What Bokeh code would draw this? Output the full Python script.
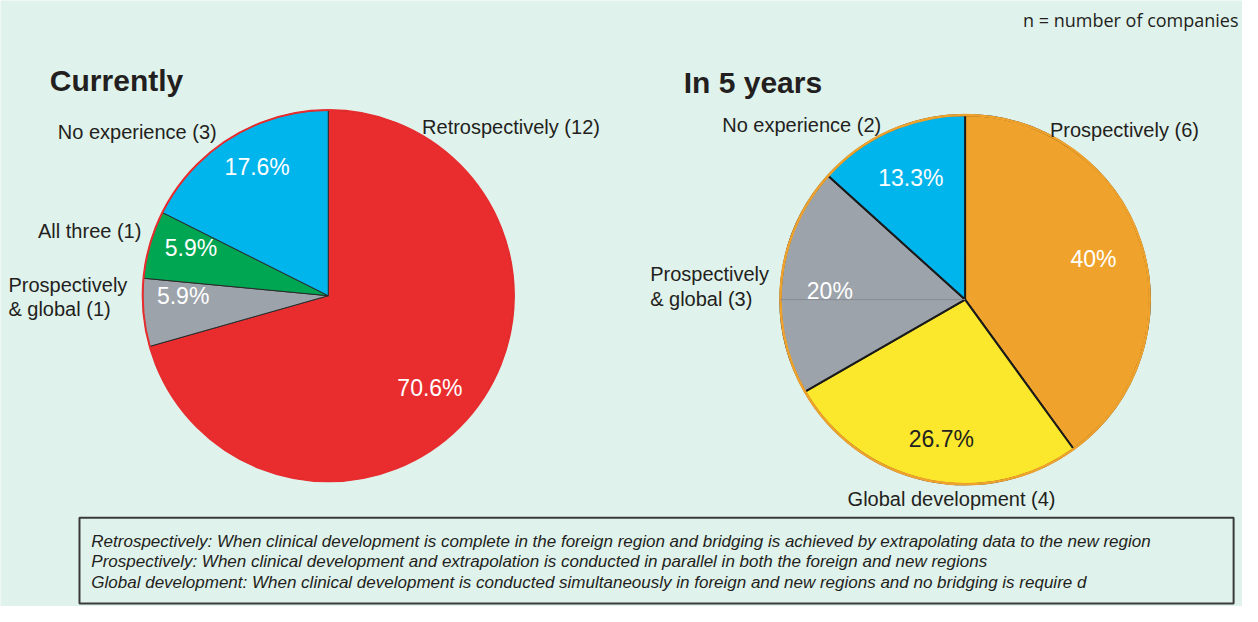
import numpy as np
from bokeh.plotting import figure
from bokeh.models import Range1d, ColumnDataSource
from bokeh.core.properties import value
from bokeh.embed import file_html
from bokeh.resources import INLINE

# ---------------- data ----------------
current_title = "Currently"
current_labels = ["Retrospectively (12)", "Prospectively\n& global (1)", "All three (1)", "No experience (3)"]
current_pct = [70.6, 5.9, 5.9, 17.6]
current_pct_text = ["70.6%", "5.9%", "5.9%", "17.6%"]

future_title = "In 5 years"
future_labels = ["Prospectively (6)", "Global development (4)", "Prospectively\n& global (3)", "No experience (2)"]
future_pct = [40.0, 26.7, 20.0, 13.3]
future_pct_text = ["40%", "26.7%", "20%", "13.3%"]

note_top = "n = number of companies"
footnotes = [
    "Retrospectively: When clinical development is complete in the foreign region and bridging is achieved by extrapolating data to the new region",
    "Prospectively: When clinical development and extrapolation is conducted in parallel in both the foreign and new regions",
    "Global development: When clinical development is conducted simultaneously in foreign and new regions and no bridging is require d",
]

# ---------------- style / layout ----------------
BG = "#e0f2ec"
W, H = 1242, 606
FONT = "Liberation Sans"
current_colors = ["#e92d2f", "#9ca3aa", "#00a651", "#00b4ec"]
future_colors = ["#f0a32c", "#fbe82c", "#9ca3aa", "#00b4ec"]

def Y(yref):
    return 622 - yref

p = figure(width=W, height=H, output_backend="svg", toolbar_location=None,
           x_range=Range1d(0, 1258), y_range=Range1d(0, 622),
           min_border=0, min_border_left=0, min_border_right=0,
           min_border_top=0, min_border_bottom=0)
p.axis.visible = False
p.grid.visible = False
p.outline_line_color = None
p.background_fill_color = BG
p.border_fill_color = BG


def draw_pie(cx, cy, r, pcts, colors, sep_color, sep_width, rim_color, rim_width):
    cum = np.concatenate([[0], np.cumsum(pcts)]) / np.sum(pcts)
    start = np.pi / 2 - cum[1:] * 2 * np.pi
    end = np.pi / 2 - cum[:-1] * 2 * np.pi
    src = ColumnDataSource(dict(x=[cx] * len(pcts), y=[cy] * len(pcts),
                                start=start, end=end, color=colors))
    p.wedge(x="x", y="y", radius=r, start_angle="start", end_angle="end",
            fill_color="color", line_color=sep_color, line_width=sep_width, source=src)
    p.arc(x=[cx], y=[cy], radius=r, start_angle=0, end_angle=2 * np.pi,
          line_color=rim_color, line_width=rim_width)
    return start, end


# Left pie
LCX, LCY, LR = 332, Y(303), 188
draw_pie(LCX, LCY, LR, current_pct, current_colors, "#2a2a2a", 1, "#e92d2f", 2)

# Right pie
RCX, RCY, RR = 977, Y(307), 187
draw_pie(RCX, RCY, RR, future_pct, future_colors, "#1a1a1a", 2, "#f0a32c", 2.5)
# faint horizontal artifact line in grey slice
p.line(x=[RCX - RR, RCX], y=[RCY, RCY], line_color="#868c94", line_width=1)

# Titles
p.text(x=[50, 692], y=[Y(82), Y(84)], text=[current_title, future_title],
       text_font=value(FONT), text_font_size="30px", text_font_style="bold",
       text_color="#231f20", text_baseline="middle", text_align="left")

# Category labels (split multi-line)
def label_lines(labels, anchors, size="20px"):
    xs, ys, ts = [], [], []
    for lab, (ax, ay) in zip(labels, anchors):
        for k, line in enumerate(lab.split("\n")):
            xs.append(ax)
            ys.append(Y(ay + k * 25))
            ts.append(line)
    p.text(x=xs, y=ys, text=ts, text_font=value(FONT), text_font_size=size,
           text_color="#231f20", text_baseline="middle", text_align="left")

current_label_pos = [(427, 130), (8, 292), (38, 237), (58, 135)]
future_label_pos = [(1063, 133), (858, 512), (658, 281), (731, 128)]
label_lines(current_labels, current_label_pos)
label_lines(future_labels, future_label_pos)

# Percentage labels
current_pct_pos = [(435, 398), (185, 303), (193, 254), (260, 171)]
future_pct_pos = [(1107, 265), (953, 450), (840, 298), (922, 182)]
future_pct_colors = ["white", "#231f20", "white", "white"]
p.text(x=[a for a, b in current_pct_pos], y=[Y(b) for a, b in current_pct_pos],
       text=current_pct_text, text_font=value(FONT), text_font_size="23px",
       text_color="white", text_align="center", text_baseline="middle")
p.text(x=[a for a, b in future_pct_pos], y=[Y(b) for a, b in future_pct_pos],
       text=future_pct_text, text_font=value(FONT), text_font_size="23px",
       text_color=future_pct_colors, text_align="center", text_baseline="middle")

# top-right note
p.text(x=[1254], y=[Y(20)], text=[note_top], text_font=value("Open Sans"),
       text_font_size="18px", text_color="#231f20", text_align="right",
       text_baseline="middle")

# footnote box
p.quad(left=[80], right=[1249], top=[Y(531)], bottom=[Y(619)],
       fill_color=None, line_color="#3a3a3a", line_width=2)
p.text(x=[92] * 3, y=[Y(555), Y(576), Y(597)], text=footnotes,
       text_font=value(FONT), text_font_size="17px", text_font_style="italic",
       text_color="#231f20", text_align="left", text_baseline="middle")

open("out.html", "w").write(file_html(p, INLINE))
